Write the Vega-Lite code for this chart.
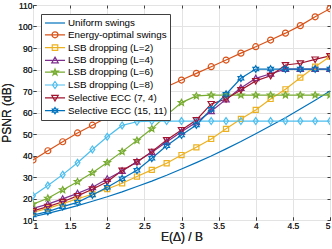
{
  "$schema": "https://vega.github.io/schema/vega-lite/v6.json",
  "width": 297,
  "height": 215,
  "autosize": "none",
  "padding": {"left": 33, "top": 5, "right": 2, "bottom": 29},
  "background": "white",
  "config": {
    "view": {"stroke": "#595959", "strokeWidth": 1},
    "axis": {
      "domain": false,
      "grid": true,
      "gridColor": "#e3e3e3",
      "gridWidth": 1,
      "tickColor": "#404040",
      "tickSize": -3,
      "labelFont": "Liberation Sans",
      "labelFontSize": 8.5,
      "labelColor": "#262626",
      "titleFont": "Liberation Sans",
      "titleFontSize": 12,
      "titleFontWeight": "normal",
      "titleColor": "#262626"
    },
    "legend": {
      "orient": "none",
      "legendX": 8,
      "legendY": 9,
      "fillColor": "white",
      "strokeColor": "#404040",
      "padding": 3,
      "rowPadding": 0.8,
      "labelFont": "Liberation Sans",
      "labelFontSize": 9.8,
      "labelColor": "#000000",
      "symbolSize": 100,
      "symbolStrokeWidth": 1.2,
      "symbolFillColor": "transparent",
      "labelOffset": 12,
      "labelLimit": 300
    }
  },
  "data": {
    "values": [
      {"x": 1.0, "s": "Uniform swings", "y": 11.5},
      {"x": 1.2, "s": "Uniform swings", "y": 13.1},
      {"x": 1.4, "s": "Uniform swings", "y": 14.8},
      {"x": 1.6, "s": "Uniform swings", "y": 16.7},
      {"x": 1.8, "s": "Uniform swings", "y": 18.7},
      {"x": 2.0, "s": "Uniform swings", "y": 20.8},
      {"x": 2.2, "s": "Uniform swings", "y": 23.1},
      {"x": 2.4, "s": "Uniform swings", "y": 25.6},
      {"x": 2.6, "s": "Uniform swings", "y": 28.1},
      {"x": 2.8, "s": "Uniform swings", "y": 30.8},
      {"x": 3.0, "s": "Uniform swings", "y": 33.7},
      {"x": 3.2, "s": "Uniform swings", "y": 36.7},
      {"x": 3.4, "s": "Uniform swings", "y": 39.8},
      {"x": 3.6, "s": "Uniform swings", "y": 43.1},
      {"x": 3.8, "s": "Uniform swings", "y": 46.5},
      {"x": 4.0, "s": "Uniform swings", "y": 50.1},
      {"x": 4.2, "s": "Uniform swings", "y": 53.8},
      {"x": 4.4, "s": "Uniform swings", "y": 57.6},
      {"x": 4.6, "s": "Uniform swings", "y": 61.6},
      {"x": 4.8, "s": "Uniform swings", "y": 65.7},
      {"x": 5.0, "s": "Uniform swings", "y": 70.0},

      {"x": 1.0, "s": "Energy-optimal swings", "y": 37.9},
      {"x": 1.2, "s": "Energy-optimal swings", "y": 42.2},
      {"x": 1.4, "s": "Energy-optimal swings", "y": 46.4},
      {"x": 1.6, "s": "Energy-optimal swings", "y": 50.5},
      {"x": 1.8, "s": "Energy-optimal swings", "y": 54.1},
      {"x": 2.0, "s": "Energy-optimal swings", "y": 57.8},
      {"x": 2.2, "s": "Energy-optimal swings", "y": 61.3},
      {"x": 2.4, "s": "Energy-optimal swings", "y": 64.8},
      {"x": 2.6, "s": "Energy-optimal swings", "y": 68.4},
      {"x": 2.8, "s": "Energy-optimal swings", "y": 72.0},
      {"x": 3.0, "s": "Energy-optimal swings", "y": 75.1},
      {"x": 3.2, "s": "Energy-optimal swings", "y": 78.2},
      {"x": 3.4, "s": "Energy-optimal swings", "y": 81.3},
      {"x": 3.6, "s": "Energy-optimal swings", "y": 84.4},
      {"x": 3.8, "s": "Energy-optimal swings", "y": 87.6},
      {"x": 4.0, "s": "Energy-optimal swings", "y": 90.6},
      {"x": 4.2, "s": "Energy-optimal swings", "y": 93.7},
      {"x": 4.4, "s": "Energy-optimal swings", "y": 96.9},
      {"x": 4.6, "s": "Energy-optimal swings", "y": 100.4},
      {"x": 4.8, "s": "Energy-optimal swings", "y": 104.5},
      {"x": 5.0, "s": "Energy-optimal swings", "y": 108.3},

      {"x": 1.0, "s": "LSB dropping (L=2)", "y": 13.6},
      {"x": 1.2, "s": "LSB dropping (L=2)", "y": 15.4},
      {"x": 1.4, "s": "LSB dropping (L=2)", "y": 17.6},
      {"x": 1.6, "s": "LSB dropping (L=2)", "y": 19.9},
      {"x": 1.8, "s": "LSB dropping (L=2)", "y": 22.0},
      {"x": 2.0, "s": "LSB dropping (L=2)", "y": 24.4},
      {"x": 2.2, "s": "LSB dropping (L=2)", "y": 27.1},
      {"x": 2.4, "s": "LSB dropping (L=2)", "y": 30.2},
      {"x": 2.6, "s": "LSB dropping (L=2)", "y": 33.3},
      {"x": 2.8, "s": "LSB dropping (L=2)", "y": 36.4},
      {"x": 3.0, "s": "LSB dropping (L=2)", "y": 40.2},
      {"x": 3.2, "s": "LSB dropping (L=2)", "y": 43.8},
      {"x": 3.4, "s": "LSB dropping (L=2)", "y": 47.7},
      {"x": 3.6, "s": "LSB dropping (L=2)", "y": 52.4},
      {"x": 3.8, "s": "LSB dropping (L=2)", "y": 57.0},
      {"x": 4.0, "s": "LSB dropping (L=2)", "y": 61.2},
      {"x": 4.2, "s": "LSB dropping (L=2)", "y": 66.3},
      {"x": 4.4, "s": "LSB dropping (L=2)", "y": 70.8},
      {"x": 4.6, "s": "LSB dropping (L=2)", "y": 76.2},
      {"x": 4.8, "s": "LSB dropping (L=2)", "y": 81.3},
      {"x": 5.0, "s": "LSB dropping (L=2)", "y": 86.0},

      {"x": 1.0, "s": "LSB dropping (L=4)", "y": 15.4},
      {"x": 1.2, "s": "LSB dropping (L=4)", "y": 17.4},
      {"x": 1.4, "s": "LSB dropping (L=4)", "y": 19.8},
      {"x": 1.6, "s": "LSB dropping (L=4)", "y": 22.4},
      {"x": 1.8, "s": "LSB dropping (L=4)", "y": 25.2},
      {"x": 2.0, "s": "LSB dropping (L=4)", "y": 29.1},
      {"x": 2.2, "s": "LSB dropping (L=4)", "y": 32.8},
      {"x": 2.4, "s": "LSB dropping (L=4)", "y": 37.1},
      {"x": 2.6, "s": "LSB dropping (L=4)", "y": 41.5},
      {"x": 2.8, "s": "LSB dropping (L=4)", "y": 46.3},
      {"x": 3.0, "s": "LSB dropping (L=4)", "y": 51.0},
      {"x": 3.2, "s": "LSB dropping (L=4)", "y": 55.5},
      {"x": 3.4, "s": "LSB dropping (L=4)", "y": 60.6},
      {"x": 3.6, "s": "LSB dropping (L=4)", "y": 66.1},
      {"x": 3.8, "s": "LSB dropping (L=4)", "y": 71.4},
      {"x": 4.0, "s": "LSB dropping (L=4)", "y": 75.9},
      {"x": 4.2, "s": "LSB dropping (L=4)", "y": 78.0},
      {"x": 4.4, "s": "LSB dropping (L=4)", "y": 80.2},
      {"x": 4.6, "s": "LSB dropping (L=4)", "y": 80.2},
      {"x": 4.8, "s": "LSB dropping (L=4)", "y": 80.2},
      {"x": 5.0, "s": "LSB dropping (L=4)", "y": 80.2},

      {"x": 1.0, "s": "LSB dropping (L=6)", "y": 17.4},
      {"x": 1.2, "s": "LSB dropping (L=6)", "y": 20.1},
      {"x": 1.4, "s": "LSB dropping (L=6)", "y": 24.0},
      {"x": 1.6, "s": "LSB dropping (L=6)", "y": 27.8},
      {"x": 1.8, "s": "LSB dropping (L=6)", "y": 32.0},
      {"x": 2.0, "s": "LSB dropping (L=6)", "y": 36.7},
      {"x": 2.2, "s": "LSB dropping (L=6)", "y": 41.8},
      {"x": 2.4, "s": "LSB dropping (L=6)", "y": 47.0},
      {"x": 2.6, "s": "LSB dropping (L=6)", "y": 52.4},
      {"x": 2.8, "s": "LSB dropping (L=6)", "y": 58.8},
      {"x": 3.0, "s": "LSB dropping (L=6)", "y": 64.6},
      {"x": 3.2, "s": "LSB dropping (L=6)", "y": 67.7},
      {"x": 3.4, "s": "LSB dropping (L=6)", "y": 68.1},
      {"x": 3.6, "s": "LSB dropping (L=6)", "y": 68.1},
      {"x": 3.8, "s": "LSB dropping (L=6)", "y": 68.1},
      {"x": 4.0, "s": "LSB dropping (L=6)", "y": 68.1},
      {"x": 4.2, "s": "LSB dropping (L=6)", "y": 68.1},
      {"x": 4.4, "s": "LSB dropping (L=6)", "y": 68.1},
      {"x": 4.6, "s": "LSB dropping (L=6)", "y": 68.1},
      {"x": 4.8, "s": "LSB dropping (L=6)", "y": 68.1},
      {"x": 5.0, "s": "LSB dropping (L=6)", "y": 68.1},

      {"x": 1.0, "s": "LSB dropping (L=8)", "y": 21.3},
      {"x": 1.2, "s": "LSB dropping (L=8)", "y": 26.0},
      {"x": 1.4, "s": "LSB dropping (L=8)", "y": 31.1},
      {"x": 1.6, "s": "LSB dropping (L=8)", "y": 36.6},
      {"x": 1.8, "s": "LSB dropping (L=8)", "y": 42.8},
      {"x": 2.0, "s": "LSB dropping (L=8)", "y": 48.7},
      {"x": 2.2, "s": "LSB dropping (L=8)", "y": 54.0},
      {"x": 2.4, "s": "LSB dropping (L=8)", "y": 55.7},
      {"x": 2.6, "s": "LSB dropping (L=8)", "y": 56.0},
      {"x": 2.8, "s": "LSB dropping (L=8)", "y": 56.0},
      {"x": 3.0, "s": "LSB dropping (L=8)", "y": 56.0},
      {"x": 3.2, "s": "LSB dropping (L=8)", "y": 56.0},
      {"x": 3.4, "s": "LSB dropping (L=8)", "y": 56.0},
      {"x": 3.6, "s": "LSB dropping (L=8)", "y": 56.0},
      {"x": 3.8, "s": "LSB dropping (L=8)", "y": 56.0},
      {"x": 4.0, "s": "LSB dropping (L=8)", "y": 56.0},
      {"x": 4.2, "s": "LSB dropping (L=8)", "y": 56.0},
      {"x": 4.4, "s": "LSB dropping (L=8)", "y": 56.0},
      {"x": 4.6, "s": "LSB dropping (L=8)", "y": 56.0},
      {"x": 4.8, "s": "LSB dropping (L=8)", "y": 56.0},
      {"x": 5.0, "s": "LSB dropping (L=8)", "y": 56.0},

      {"x": 1.0, "s": "Selective ECC (7, 4)", "y": 14.2},
      {"x": 1.2, "s": "Selective ECC (7, 4)", "y": 16.2},
      {"x": 1.4, "s": "Selective ECC (7, 4)", "y": 18.5},
      {"x": 1.6, "s": "Selective ECC (7, 4)", "y": 21.2},
      {"x": 1.8, "s": "Selective ECC (7, 4)", "y": 24.3},
      {"x": 2.0, "s": "Selective ECC (7, 4)", "y": 27.8},
      {"x": 2.2, "s": "Selective ECC (7, 4)", "y": 33.0},
      {"x": 2.4, "s": "Selective ECC (7, 4)", "y": 37.0},
      {"x": 2.6, "s": "Selective ECC (7, 4)", "y": 41.8},
      {"x": 2.8, "s": "Selective ECC (7, 4)", "y": 47.2},
      {"x": 3.0, "s": "Selective ECC (7, 4)", "y": 51.9},
      {"x": 3.2, "s": "Selective ECC (7, 4)", "y": 56.5},
      {"x": 3.4, "s": "Selective ECC (7, 4)", "y": 64.0},
      {"x": 3.6, "s": "Selective ECC (7, 4)", "y": 66.3},
      {"x": 3.8, "s": "Selective ECC (7, 4)", "y": 70.5},
      {"x": 4.0, "s": "Selective ECC (7, 4)", "y": 74.7},
      {"x": 4.2, "s": "Selective ECC (7, 4)", "y": 77.1},
      {"x": 4.4, "s": "Selective ECC (7, 4)", "y": 82.1},
      {"x": 4.6, "s": "Selective ECC (7, 4)", "y": 82.9},
      {"x": 4.8, "s": "Selective ECC (7, 4)", "y": 84.7},
      {"x": 5.0, "s": "Selective ECC (7, 4)", "y": 86.3},

      {"x": 1.0, "s": "Selective ECC (15, 11)", "y": 12.3},
      {"x": 1.2, "s": "Selective ECC (15, 11)", "y": 13.9},
      {"x": 1.4, "s": "Selective ECC (15, 11)", "y": 16.2},
      {"x": 1.6, "s": "Selective ECC (15, 11)", "y": 18.2},
      {"x": 1.8, "s": "Selective ECC (15, 11)", "y": 21.6},
      {"x": 2.0, "s": "Selective ECC (15, 11)", "y": 25.2},
      {"x": 2.2, "s": "Selective ECC (15, 11)", "y": 29.2},
      {"x": 2.4, "s": "Selective ECC (15, 11)", "y": 33.1},
      {"x": 2.6, "s": "Selective ECC (15, 11)", "y": 38.7},
      {"x": 2.8, "s": "Selective ECC (15, 11)", "y": 44.5},
      {"x": 3.0, "s": "Selective ECC (15, 11)", "y": 49.5},
      {"x": 3.2, "s": "Selective ECC (15, 11)", "y": 54.2},
      {"x": 3.4, "s": "Selective ECC (15, 11)", "y": 61.5},
      {"x": 3.6, "s": "Selective ECC (15, 11)", "y": 68.5},
      {"x": 3.8, "s": "Selective ECC (15, 11)", "y": 75.9},
      {"x": 4.0, "s": "Selective ECC (15, 11)", "y": 80.2},
      {"x": 4.2, "s": "Selective ECC (15, 11)", "y": 80.2},
      {"x": 4.4, "s": "Selective ECC (15, 11)", "y": 80.2},
      {"x": 4.6, "s": "Selective ECC (15, 11)", "y": 80.2},
      {"x": 4.8, "s": "Selective ECC (15, 11)", "y": 80.2},
      {"x": 5.0, "s": "Selective ECC (15, 11)", "y": 80.2}
    ]
  },
  "encoding": {
    "x": {
      "field": "x",
      "type": "quantitative",
      "scale": {"domain": [1, 5], "nice": false},
      "axis": {"values": [1, 1.5, 2, 2.5, 3, 3.5, 4, 4.5, 5], "format": "~g", "title": "E(Δ) / B", "labelPadding": 4, "titlePadding": 2}
    },
    "y": {
      "field": "y",
      "type": "quantitative",
      "scale": {"domain": [10, 110], "nice": false},
      "axis": {"values": [10, 20, 30, 40, 50, 60, 70, 80, 90, 100, 110], "format": "d", "title": "PSNR (dB)", "labelPadding": 4, "titlePadding": 4}
    }
  },
  "layer": [
    {
      "mark": {"type": "line", "strokeWidth": 1.2, "clip": true},
      "encoding": {
        "color": {
          "field": "s",
          "type": "nominal",
          "scale": {
            "domain": ["Uniform swings", "Energy-optimal swings", "LSB dropping (L=2)", "LSB dropping (L=4)", "LSB dropping (L=6)", "LSB dropping (L=8)", "Selective ECC (7, 4)", "Selective ECC (15, 11)"],
            "range": ["#0072BD", "#D95319", "#EDB120", "#7E2F8E", "#77AC30", "#4DBEEE", "#A2142F", "#0072BD"]
          },
          "legend": null
        }
      }
    },
    {
      "transform": [{"filter": "datum.s !== 'Uniform swings'"}],
      "mark": {"type": "point", "filled": false, "size": 36, "strokeWidth": 1.2, "opacity": 1, "clip": true},
      "encoding": {
        "x": {
          "field": "x",
          "type": "quantitative",
          "axis": {"orient": "top", "values": [1, 1.5, 2, 2.5, 3, 3.5, 4, 4.5, 5], "labels": false, "title": null, "grid": false}
        },
        "y": {
          "field": "y",
          "type": "quantitative",
          "axis": {"orient": "right", "values": [10, 20, 30, 40, 50, 60, 70, 80, 90, 100, 110], "labels": false, "title": null, "grid": false}
        },
        "color": {"field": "s", "type": "nominal", "legend": null},
        "shape": {
          "field": "s",
          "type": "nominal",
          "scale": {
            "domain": ["Energy-optimal swings", "LSB dropping (L=2)", "LSB dropping (L=4)", "LSB dropping (L=6)", "LSB dropping (L=8)", "Selective ECC (7, 4)", "Selective ECC (15, 11)"],
            "range": [
              "circle",
              "M-0.85,-0.85H0.85V0.85H-0.85Z",
              "M0,-1.05L1.05,0.8H-1.05Z",
              "M0,-1.1L0.37,-0.34L1.05,-0.34L0.5,0.13L0.65,0.89L0,0.42L-0.65,0.89L-0.5,0.13L-1.05,-0.34L-0.37,-0.34Z",
              "M0,-1.15L0.8,0L0,1.15L-0.8,0Z",
              "M0,1.05L1.05,-0.8H-1.05Z",
              "M0,-1.1L0.32,-0.55L0.95,-0.55L0.63,0L0.95,0.55L0.32,0.55L0,1.1L-0.32,0.55L-0.95,0.55L-0.63,0L-0.95,-0.55L-0.32,-0.55Z"
            ]
          },
          "legend": null
        }
      }
    },
    {
      "mark": {"type": "point", "filled": false, "opacity": 0},
      "encoding": {
        "stroke": {
          "field": "s",
          "type": "nominal",
          "scale": {
            "domain": ["Uniform swings", "Energy-optimal swings", "LSB dropping (L=2)", "LSB dropping (L=4)", "LSB dropping (L=6)", "LSB dropping (L=8)", "Selective ECC (7, 4)", "Selective ECC (15, 11)"],
            "range": ["#0072BD", "#D95319", "#EDB120", "#7E2F8E", "#77AC30", "#4DBEEE", "#A2142F", "#0072BD"]
          },
          "legend": {"title": null}
        },
        "shape": {
          "field": "s",
          "type": "nominal",
          "scale": {
            "domain": ["Uniform swings", "Energy-optimal swings", "LSB dropping (L=2)", "LSB dropping (L=4)", "LSB dropping (L=6)", "LSB dropping (L=8)", "Selective ECC (7, 4)", "Selective ECC (15, 11)"],
            "range": [
              "M-1,0H3",
              "M-1,0H3M1.6,0A0.6,0.6,0,1,1,0.4,0A0.6,0.6,0,1,1,1.6,0Z",
              "M-1,0H3M0.45,-0.55H1.55V0.55H0.45Z",
              "M-1,0H3M1,-0.65L1.65,0.5H0.35Z",
              "M-1,0H3M1,-0.65L1.16,-0.2L1.62,-0.2L1.25,0.08L1.39,0.53L1,0.25L0.61,0.53L0.75,0.08L0.38,-0.2L0.84,-0.2Z",
              "M-1,0H3M1,-0.7L1.5,0L1,0.7L0.5,0Z",
              "M-1,0H3M1,0.65L1.65,-0.5H0.35Z",
              "M-1,0H3M1,-0.62L1.18,-0.31L1.54,-0.31L1.36,0L1.54,0.31L1.18,0.31L1,0.62L0.82,0.31L0.46,0.31L0.64,0L0.46,-0.31L0.82,-0.31Z"
            ]
          },
          "legend": {"title": null}
        }
      }
    }
  ],
  "resolve": {
    "scale": {"shape": "independent", "stroke": "independent"},
    "legend": {"shape": "independent", "stroke": "independent"},
    "axis": {"x": "independent", "y": "independent"}
  }
}
